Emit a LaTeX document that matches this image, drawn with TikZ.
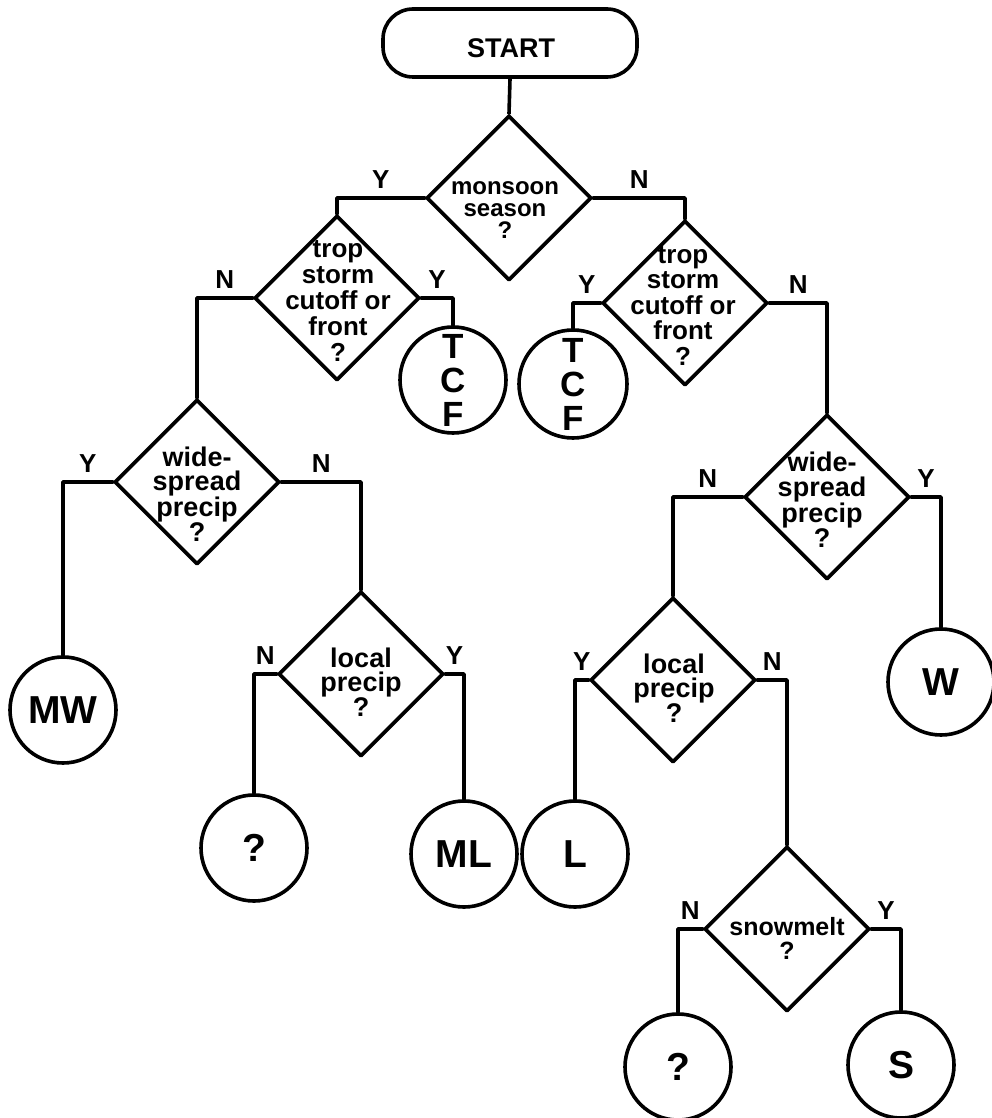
\documentclass[tikz,border=0pt]{standalone}
\usepackage{fontspec}
\setmainfont{Liberation Sans}
\usetikzlibrary{shapes.geometric}
\begin{document}
\begin{tikzpicture}[x=1pt,y=-1pt,
  line width=3.6pt, line join=round, line cap=round,
  dec/.style={draw, diamond, minimum width=165pt, minimum height=165pt, inner sep=0pt},
  term/.style={draw, circle, minimum size=#1, inner sep=0pt, align=center,
    font=\fontsize{39}{39}\selectfont\bfseries},
  term/.default=106pt,
  stack/.style={font=\fontsize{35}{34}\selectfont\bfseries},
  qtext/.style 2 args={align=center, inner sep=0pt, font=\fontsize{#1}{#2}\selectfont\bfseries},
  lbl/.style={above, inner sep=0pt, yshift=8pt, font=\fontsize{26}{26}\selectfont\bfseries},
]
\useasboundingbox (0,0) rectangle (991,1118);

% start
\node[draw, rounded corners=30pt, minimum width=254pt, minimum height=68pt, inner sep=0pt] (S) at (510,43) {};
\node[font=\fontsize{27}{27}\selectfont\bfseries, inner sep=0pt] (st) at (511,48) {START};

% decisions
\node[dec] (D0) at (509,198) {};
\node[dec] (D1) at (337,298) {};
\node[dec] (D2) at (685,303) {};
\node[dec] (D3) at (197,482) {};
\node[dec] (D4) at (361,674) {};
\node[dec] (D5) at (827,497) {};
\node[dec] (D6) at (673,680) {};
\node[dec] (D7) at (787,929) {};

\node[qtext={24}{22}] (t0) at (505,210) {monsoon\\season\\?};
\node[qtext={26}{26}] (t1) at (338,301) {trop\\storm\\cutoff or\\front\\?};
\node[qtext={26}{25.5}] (t2) at (683,306) {trop\\storm\\cutoff or\\front\\?};
\node[qtext={27}{24.5}] (t3) at (197,494) {wide-\\spread\\precip\\?};
\node[qtext={27}{24.5}] (t4) at (361,682) {local\\precip\\?};
\node[qtext={27}{25}] (t5) at (822,500) {wide-\\spread\\precip\\?};
\node[qtext={27}{24.5}] (t6) at (674,688) {local\\precip\\?};
\node[qtext={25}{24}] (t7) at (787,938) {snowmelt\\?};

% terminals
\node[term, stack] (C1) at (453,380) {T\\C\\F};
\node[term=108pt, stack] (C2) at (573,384) {T\\C\\F};
\node[term] (C3) at (63,710) {MW};
\node[term] (C4) at (254,848) {?};
\node[term] (C5) at (464,854) {ML};
\node[term] (C6) at (941,682) {W};
\node[term] (C7) at (575,854) {L};
\node[term] (C8) at (678,1067) {?};
\node[term] (C9) at (901,1065) {S};

% connectors
\draw (S.south) -- (D0.north);
\draw (D0.west) -| (D1.north) node[lbl, pos=0.25] (l01) {Y};
\draw (D0.east) -| (D2.north) node[lbl, pos=0.25] (l02) {N};
\draw (D1.west) -| (D3.north) node[lbl, pos=0.25] (l13) {N};
\draw (D1.east) -| (C1.north) node[lbl, pos=0.25] (l1c) {Y};
\draw (D2.west) -| (C2.north) node[lbl, pos=0.25] (l2c) {Y};
\draw (D2.east) -| (D5.north) node[lbl, pos=0.25] (l25) {N};
\draw (D3.west) -| (C3.north) node[lbl, pos=0.25] (l3c) {Y};
\draw (D3.east) -| (D4.north) node[lbl, pos=0.25] (l34) {N};
\draw (D4.west) -| (C4.north) node[lbl, pos=0.25] (l4a) {N};
\draw (D4.east) -| (C5.north) node[lbl, pos=0.25] (l4b) {Y};
\draw (D5.west) -| (D6.north) node[lbl, pos=0.25] (l56) {N};
\draw (D5.east) -| (C6.north) node[lbl, pos=0.25] (l5c) {Y};
\draw (D6.west) -| (C7.north) node[lbl, pos=0.25] (l6c) {Y};
\draw (D6.east) -| (D7.north) node[lbl, pos=0.25] (l67) {N};
\draw (D7.west) -| (C8.north) node[lbl, pos=0.25] (l7a) {N};
\draw (D7.east) -| (C9.north) node[lbl, pos=0.25] (l7b) {Y};
\end{tikzpicture}
\end{document}
